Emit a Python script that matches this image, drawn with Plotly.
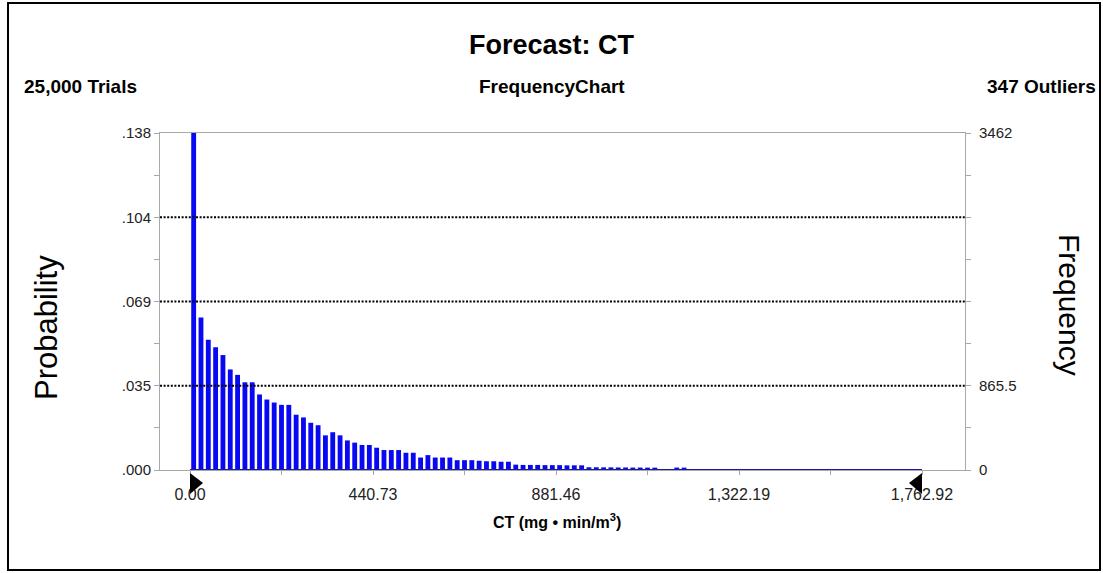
import plotly.graph_objects as go

# ---------------- data ----------------
x_min = 0.0
x_max = 1762.92
n_bins = 100
trials = 25000
outliers = 347
freq_max = 3462

counts = [3462, 1566, 1337, 1261, 1181, 1033, 977, 901, 901, 776,
          724, 693, 669, 669, 568, 540, 485, 460, 356, 388,
          356, 304, 281, 257, 257, 229, 205, 205, 205, 177,
          177, 128, 153, 128, 128, 128, 101, 101, 101, 95,
          90, 90, 85, 85, 55, 52, 52, 52, 50, 50,
          50, 48, 48, 48, 28, 28, 27, 27, 26, 26,
          25, 25, 24, 24, 6, 5, 25, 24, 8, 7,
          7, 6, 6, 6, 5, 5, 5, 5, 4, 4,
          4, 4, 4, 3, 3, 3, 3, 3, 3, 3,
          2, 2, 2, 2, 2, 2, 2, 2, 2, 2]

x_tick_labels = ["0.00", "", "440.73", "", "881.46", "", "1,322.19", "", "1,762.92"]
prob_tick_labels = [".000", "", ".035", "", ".069", "", ".104", "", ".138"]
freq_tick_labels = ["0", "", "865.5", "", "", "", "", "", "3462"]

# ---------------- derived ----------------
bin_w = (x_max - x_min) / n_bins
centers = [x_min + bin_w * (i + 0.5) for i in range(n_bins)]
x_tickvals = [x_min + (x_max - x_min) * k / 8 for k in range(9)]
y_tickvals = [freq_max * k / 8 for k in range(9)]

W, H = 1103, 573
L, R, T, B = 160, 965, 133, 470   # plot area in pixels
X0_PX, X1_PX = 190, 922           # pixel positions of x_min / x_max


def px(p):
    return (p - L) / (R - L)


def py(p):
    return (B - p) / (B - T)


units_per_px = (x_max - x_min) / (X1_PX - X0_PX)
x_range = [x_min - (X0_PX - L) * units_per_px, x_max + (R - X1_PX) * units_per_px]


def x_to_paper(v):
    return (v - x_range[0]) / (x_range[1] - x_range[0])


fig = go.Figure()
fig.add_trace(go.Bar(x=centers, y=counts, marker=dict(color="#0808f2", line_width=0),
                     width=bin_w * 0.66, showlegend=False, hoverinfo="x+y"))
fig.add_trace(go.Scatter(x=[x_min, x_max], y=[0, 0], mode="lines",
                         line=dict(color="#1a1aa0", width=2), cliponaxis=False,
                         showlegend=False, hoverinfo="skip"))
# invisible trace for right axis
fig.add_trace(go.Scatter(x=[x_min], y=[0], yaxis="y2", mode="markers",
                         marker=dict(opacity=0), showlegend=False, hoverinfo="skip"))

tick_font = dict(family="Liberation Sans, Arial", size=15, color="#222")
xtick_font = dict(family="Liberation Sans, Arial", size=16, color="#222")
gray = "#a8a8a8"

shapes = []
for k in (2, 4, 6):
    shapes.append(dict(type="line", xref="paper", yref="y", x0=0, x1=1,
                       y0=freq_max * k / 8, y1=freq_max * k / 8,
                       line=dict(color="black", width=2, dash="2px,1.6px"), layer="above"))
# range markers (triangles) below the axis ends
shapes.append(dict(type="path", xref="paper", yref="paper", xsizemode="pixel", ysizemode="pixel",
                   xanchor=x_to_paper(x_min), yanchor=0, path="M0,-3 L13,-13 L0,-24 Z",
                   fillcolor="black", line=dict(width=0)))
shapes.append(dict(type="path", xref="paper", yref="paper", xsizemode="pixel", ysizemode="pixel",
                   xanchor=x_to_paper(x_max), yanchor=0, path="M0,-3 L-13,-13 L0,-24 Z",
                   fillcolor="black", line=dict(width=0)))
# outer border
shapes.append(dict(type="rect", xref="paper", yref="paper",
                   x0=px(8), x1=px(1100), y0=py(570), y1=py(3),
                   line=dict(color="black", width=2), layer="below"))

font_family = "Liberation Sans, Arial"
annotations = [
    dict(text="<b>Forecast: CT</b>", x=px(552), y=py(45), font=dict(family=font_family, size=27, color="black")),
    dict(text="<b>%s Trials</b>" % f"{trials:,}", x=px(22), y=py(87), xanchor="left",
         font=dict(family=font_family, size=19, color="black")),
    dict(text="<b>FrequencyChart</b>", x=px(552), y=py(87), font=dict(family=font_family, size=19, color="black")),
    dict(text="<b>%d Outliers</b>" % outliers, x=px(1098), y=py(87), xanchor="right",
         font=dict(family=font_family, size=19, color="black")),
    dict(text="Probability", x=px(46), y=py(328), textangle=-90,
         font=dict(family=font_family, size=31, color="black")),
    dict(text="Frequency", x=px(1070), y=py(305), textangle=90,
         font=dict(family=font_family, size=30, color="black")),
    dict(text="<b>CT (mg • min/m<sup>3</sup>)</b>", x=px(557), y=py(521),
         font=dict(family=font_family, size=16, color="black")),
]
for a in annotations:
    a.update(xref="paper", yref="paper", showarrow=False)
    a.setdefault("xanchor", "center")
    a.setdefault("yanchor", "middle")

fig.update_layout(
    width=W, height=H,
    margin=dict(l=L, r=W - R, t=T, b=H - B, pad=0),
    paper_bgcolor="white", plot_bgcolor="white",
    shapes=shapes, annotations=annotations,
    xaxis=dict(range=x_range, tickvals=x_tickvals, ticktext=x_tick_labels,
               ticks="outside", ticklen=4, tickcolor=gray, showgrid=False, zeroline=False,
               showline=True, linecolor=gray, linewidth=1, mirror=True,
               tickfont=xtick_font, ticklabelstandoff=6),
    yaxis=dict(range=[0, freq_max], tickvals=y_tickvals, ticktext=prob_tick_labels,
               ticks="outside", ticklen=5, tickcolor=gray, showgrid=False, zeroline=False,
               showline=True, linecolor=gray, linewidth=1, mirror=True,
               tickfont=tick_font, ticklabelstandoff=0),
    yaxis2=dict(range=[0, freq_max], tickvals=y_tickvals, ticktext=freq_tick_labels,
                overlaying="y", side="right", ticks="outside", ticklen=5, tickcolor=gray,
                showgrid=False, zeroline=False, showline=False,
                tickfont=tick_font, ticklabelstandoff=5),
)

fig.write_html("out.html")
